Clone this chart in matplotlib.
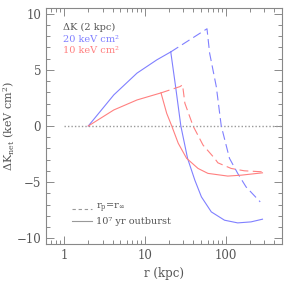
import numpy as np
import matplotlib.pyplot as plt
from matplotlib.ticker import LogLocator, MultipleLocator, NullFormatter

plt.rcParams['font.family'] = ['DejaVu Serif', 'DejaVu Sans']
plt.rcParams['mathtext.fontset'] = 'dejavuserif'

# 20 keV cm^2 (blue): common rise, then solid (10^7 yr outburst) and dashed (r_p = r_inf)
r_b_rise = [2, 4.14, 8.02, 14.1, 21]
k_b_rise = [0, 2.77, 4.71, 5.89, 6.6]
r_b_sol = [21, 24.1, 28.0, 33.9, 41.7, 50.3, 66.7, 97.2, 141.6, 206.7, 287]
k_b_sol = [6.6, 3.51, 0, -2.88, -4.82, -6.31, -7.65, -8.39, -8.63, -8.54, -8.30]
r_b_dash = [21, 36.1, 59, 63.6, 76.9, 88.6, 112, 141.6, 179.5, 269]
k_b_dash = [6.6, 7.68, 8.66, 6.49, 3.51, 0, -2.88, -4.22, -5.42, -6.76]

# 10 keV cm^2 (red)
r_r_rise = [2, 4.14, 8.02, 15.9]
k_r_rise = [0, 1.43, 2.32, 2.95]
r_r_sol = [15.9, 18.7, 21.6, 26.0, 33.0, 45.7, 60.6, 106.7, 156, 287]
k_r_sol = [2.95, 1.13, 0, -1.54, -2.88, -3.78, -4.22, -4.46, -4.38, -4.17]
r_r_dash = [15.9, 27.3, 29.4, 31.4, 39.7, 52.7, 73.3, 80.5, 117.5, 171, 287]
k_r_dash = [2.95, 3.51, 3.66, 2.03, 0, -1.70, -2.88, -3.28, -3.78, -3.99, -4.08]

blue = '#8080ff'
red = '#ff8080'
grey = '#555555'
dash = (0, (8, 4))

fig = plt.figure(figsize=(2.99, 2.90), dpi=100)
ax = fig.add_axes([0.154, 0.159, 0.789, 0.813])

# zero line
ax.plot([1, 500], [0, 0], color='#999999', lw=1.0, ls=(0, (1, 1.5)))

ax.plot(r_b_rise, k_b_rise, color=blue, lw=0.8)
ax.plot(r_b_sol, k_b_sol, color=blue, lw=0.8)
ax.plot(r_b_dash, k_b_dash, color=blue, lw=0.8, ls=dash)
ax.plot(r_r_rise, k_r_rise, color=red, lw=0.8)
ax.plot(r_r_sol, k_r_sol, color=red, lw=0.8)
ax.plot(r_r_dash, k_r_dash, color=red, lw=0.8, ls=dash)

ax.set_xscale('log')
ax.set_xlim(0.6, 500)
ax.set_ylim(-10.5, 10.5)
ax.set_xticks([1, 10, 100])
ax.set_xticklabels(['1', '10', '100'])
ax.xaxis.set_minor_locator(LogLocator(base=10, subs=np.arange(2, 10), numticks=20))
ax.xaxis.set_minor_formatter(NullFormatter())
ax.yaxis.set_major_locator(MultipleLocator(5))
ax.yaxis.set_minor_locator(MultipleLocator(1))
ax.tick_params(which='both', direction='in', top=True, right=True, colors='#777777',
               labelsize=8.5, labelcolor=grey)
ax.tick_params(which='major', length=6, width=0.6)
ax.tick_params(which='minor', length=3, width=0.6)
for s in ax.spines.values():
    s.set_color('#888888')
    s.set_linewidth(0.8)

ax.set_xlabel('r (kpc)', color=grey, fontsize=8.5)
ax.set_ylabel(r'$\Delta$K$_{\rm net}$ (keV cm$^2$)', color=grey, fontsize=8)
ax.yaxis.set_label_coords(-0.125, 0.5)

ax.text(0.072, 0.916, 'ΔK (2 kpc)', transform=ax.transAxes, color=grey,
        fontsize=7, va='center')
ax.text(0.072, 0.869, '20 keV cm²', transform=ax.transAxes, color=blue,
        fontsize=7, va='center')
ax.text(0.072, 0.822, '10 keV cm²', transform=ax.transAxes, color=red,
        fontsize=7, va='center')

ax.plot([1.25, 2.25], [-7.4, -7.4], color='#999999', lw=0.8, ls=(0, (3, 2.5)))
ax.plot([1.25, 2.25], [-8.5, -8.5], color='#999999', lw=0.8)
ax.text(2.47, -7.3, r'r$_{\rm p}$=r$_\infty$', color=grey, fontsize=7, va='center')
ax.text(2.47, -8.5, '10⁷ yr outburst', color=grey, fontsize=7, va='center')

fig.savefig('out.png', dpi=100)
